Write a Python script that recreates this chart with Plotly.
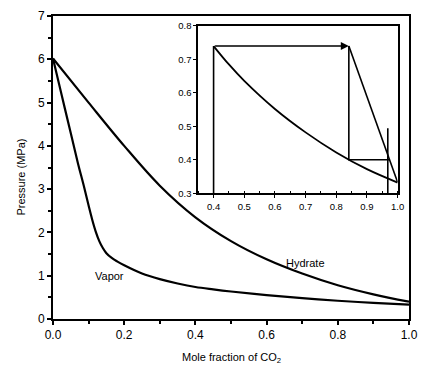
import plotly.graph_objects as go

# Main curves (mole fraction of CO2 vs pressure, MPa)
vapor_x = [0.0, 0.025, 0.05, 0.07, 0.087, 0.10, 0.11, 0.12, 0.13, 0.14, 0.15, 0.165, 0.18, 0.20,
           0.25, 0.30, 0.35, 0.40, 0.45, 0.5, 0.6, 0.7, 0.8, 0.9, 1.0]
vapor_y = [6.02, 5.15, 4.29, 3.6, 3.06, 2.62, 2.30, 2.02, 1.80, 1.64, 1.52, 1.41, 1.33, 1.24,
           1.05, 0.92, 0.82, 0.74, 0.685, 0.636, 0.552, 0.482, 0.422, 0.372, 0.332]
hydrate_x = [0.0, 0.1, 0.2, 0.3, 0.4, 0.5, 0.6, 0.7, 0.8, 0.9, 1.0]
hydrate_y = [6.02, 5.0, 4.0, 3.08, 2.35, 1.80, 1.38, 1.05, 0.78, 0.57, 0.40]

# Inset construction lines
feed_x = [0.4, 0.4]
feed_y = [0.3, 0.74]
arrow_start = (0.4, 0.74)
arrow_end = (0.841, 0.74)
op_x = [0.841, 1.0]
op_y = [0.74, 0.333]
step_x = [0.841, 0.841, 0.975]
step_y = [0.74, 0.400, 0.400]
end_x = [0.968, 0.968]
end_y = [0.3, 0.494]

main_xticks = [0.0, 0.2, 0.4, 0.6, 0.8, 1.0]
main_yticks = [0, 1, 2, 3, 4, 5, 6, 7]
inset_xticks = [0.4, 0.5, 0.6, 0.7, 0.8, 0.9, 1.0]
inset_yticks = [0.3, 0.4, 0.5, 0.6, 0.7, 0.8]

FONT = "Liberation Sans, Arial, sans-serif"
lw = 2.2
fig = go.Figure()

fig.add_trace(go.Scatter(x=vapor_x, y=vapor_y, mode="lines",
                         line=dict(color="black", width=lw, shape="spline", smoothing=1.0),
                         xaxis="x", yaxis="y", showlegend=False))
fig.add_trace(go.Scatter(x=hydrate_x, y=hydrate_y, mode="lines",
                         line=dict(color="black", width=lw, shape="spline", smoothing=1.0),
                         xaxis="x", yaxis="y", showlegend=False))

ins_vx = [x for x in vapor_x if x >= 0.4]
ins_vy = [y for x, y in zip(vapor_x, vapor_y) if x >= 0.4]
fig.add_trace(go.Scatter(x=ins_vx, y=ins_vy, mode="lines",
                         line=dict(color="black", width=1.8, shape="spline", smoothing=1.0),
                         xaxis="x2", yaxis="y2", showlegend=False))
for xs, ys in [(feed_x, feed_y), (op_x, op_y), (step_x, step_y), (end_x, end_y)]:
    fig.add_trace(go.Scatter(x=xs, y=ys, mode="lines",
                             line=dict(color="black", width=1.6),
                             xaxis="x2", yaxis="y2", showlegend=False))

fig.add_annotation(x=arrow_end[0], y=arrow_end[1], ax=arrow_start[0], ay=arrow_start[1],
                   xref="x2", yref="y2", axref="x2", ayref="y2", text="",
                   showarrow=True, arrowhead=2, arrowsize=1.0, arrowwidth=1.6, arrowcolor="black")

fig.add_annotation(x=0.16, y=1.0, xref="x", yref="y", text="Vapor", showarrow=False,
                   font=dict(family=FONT, size=11, color="black"))
fig.add_annotation(x=0.71, y=1.29, xref="x", yref="y", text="Hydrate", showarrow=False,
                   font=dict(family=FONT, size=11, color="black"))

fig.add_annotation(x=-0.09, y=0.47, xref="paper", yref="paper", text="Pressure (MPa)",
                   textangle=-90, showarrow=False, xanchor="center", yanchor="middle",
                   font=dict(family=FONT, size=11, color="black"))
fig.add_annotation(x=0.5, y=-0.128, xref="paper", yref="paper", text="Mole fraction of CO<sub>2</sub>",
                   showarrow=False, xanchor="center", yanchor="middle",
                   font=dict(family=FONT, size=11, color="black"))

axis_common = dict(showline=True, linecolor="black", mirror=True, showgrid=False, zeroline=False,
                   ticks="outside", tickcolor="black", color="black")

fig.update_layout(
    width=427, height=370,
    margin=dict(l=53, r=9, t=16, b=51),
    paper_bgcolor="white", plot_bgcolor="white",
    font=dict(family=FONT, size=12, color="black"),
    xaxis=dict(**axis_common, range=[0, 1.0], tickvals=main_xticks, tickformat=".1f",
               linewidth=2, ticklen=4, tickwidth=1.5,
               minor=dict(dtick=0.1, tick0=0, ticks="outside", ticklen=3, tickcolor="black"),
               tickfont=dict(size=12), domain=[0, 1], anchor="y"),
    yaxis=dict(**axis_common, range=[0, 7], tickvals=main_yticks,
               linewidth=2, ticklen=4, tickwidth=1.5,
               minor=dict(dtick=0.5, tick0=0, ticks="outside", ticklen=3, tickcolor="black"),
               tickfont=dict(size=12), domain=[0, 1], anchor="x"),
    xaxis2=dict(**axis_common, range=[0.35, 1.0], tickvals=inset_xticks, tickformat=".1f",
                linewidth=1.8, ticklen=3, tickwidth=1,
                minor=dict(dtick=0.05, tick0=0.35, ticks="inside", ticklen=2, tickcolor="black"),
                tickfont=dict(size=9.5), domain=[0.408, 0.968], anchor="y2"),
    yaxis2=dict(**axis_common, range=[0.3, 0.8], tickvals=inset_yticks, tickformat=".1f",
                linewidth=1.8, ticklen=3, tickwidth=1,
                tickfont=dict(size=9.5), domain=[0.415, 0.967], anchor="x2"),
)

fig.write_html("out.html")
